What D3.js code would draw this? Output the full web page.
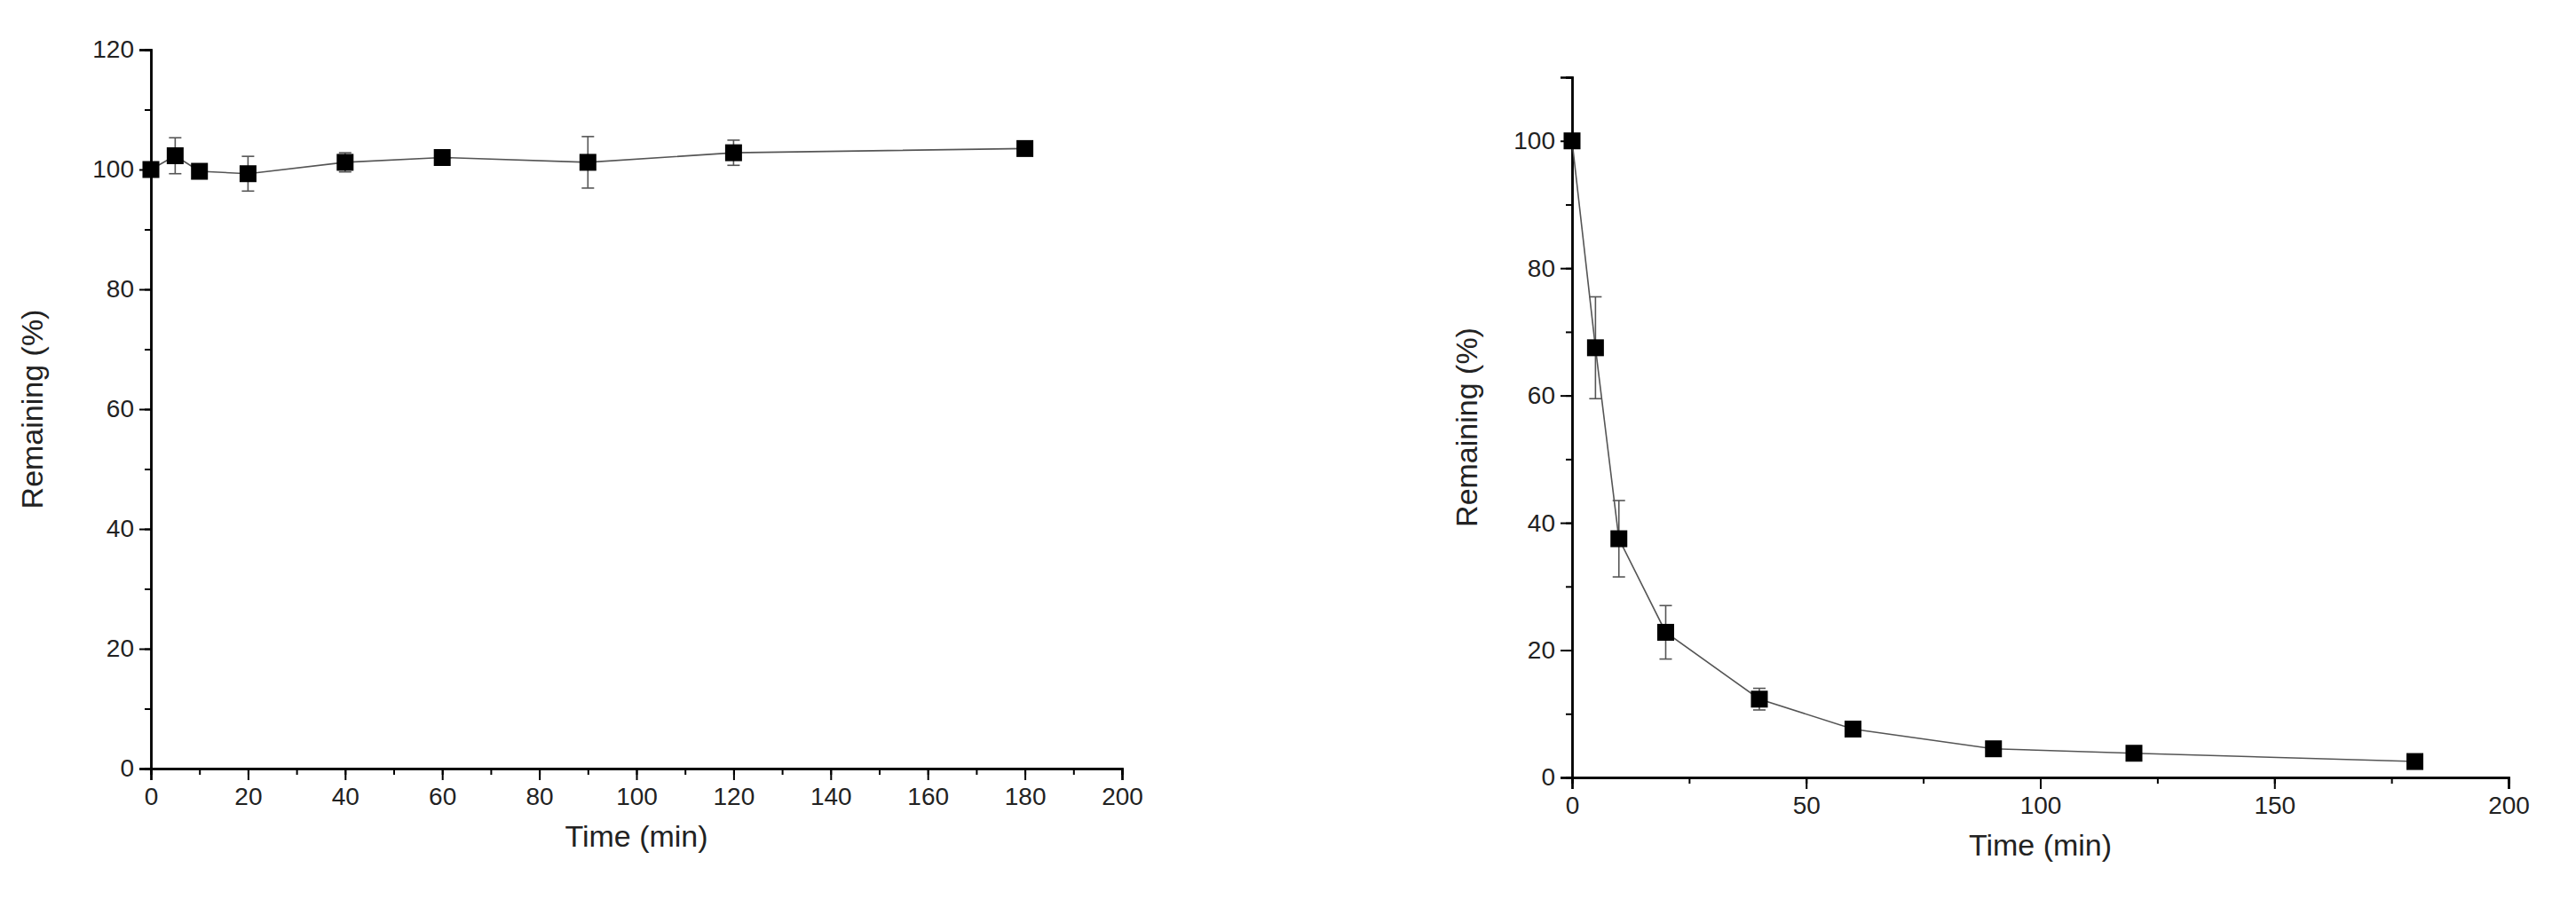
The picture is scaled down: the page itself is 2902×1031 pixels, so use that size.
<!DOCTYPE html>
<html><head><meta charset="utf-8">
<script src="https://cdn.jsdelivr.net/npm/d3@7"></script>
<style>body{margin:0;background:#fff}</style></head>
<body><svg id="c" width="2902" height="1031"></svg>
<script>
const times = [0,5,10,20,40,60,90,120,180];
const leftValues = [100,102.3,99.7,99.3,101.2,102.0,101.2,102.8,103.5];
const leftErrors = [0,3.0,1.0,2.9,1.6,1.2,4.3,2.1,0.6];
const rightValues = [100,67.5,37.5,22.8,12.3,7.6,4.5,3.8,2.5];
const rightErrors = [0,8.0,6.0,4.2,1.7,0.6,0.6,0.6,0.4];
const leftXTicks = [0,20,40,60,80,100,120,140,160,180,200];
const leftYTicks = [0,20,40,60,80,100,120];
const rightXTicks = [0,50,100,150,200];
const rightYTicks = [0,20,40,60,80,100];

const svg = d3.select("#c");
const font = "Liberation Sans, Arial, sans-serif";

function panel(o){
  const x = d3.scaleLinear().domain([0,200]).range([o.x0,o.x1]);
  const y = d3.scaleLinear().domain(o.yd).range([o.y0,o.y1]);
  const g = svg.append("g");
  // minor ticks
  const xa = d3.axisBottom(x).tickValues(d3.range(0,201,o.xminor)).tickSize(7).tickFormat("");
  g.append("g").attr("transform",`translate(0,${o.y0})`).call(xa);
  const xA = d3.axisBottom(x).tickValues(o.xt).tickSize(13).tickPadding(8).tickFormat(d3.format("d"));
  const gx = g.append("g").attr("transform",`translate(0,${o.y0})`).call(xA);
  const ya = d3.axisLeft(y).tickValues(d3.range(0,o.yd[1]+0.1,10)).tickSize(7).tickFormat("");
  g.append("g").attr("transform",`translate(${o.x0},0)`).call(ya);
  const yA = d3.axisLeft(y).tickValues(o.yt).tickSize(13).tickPadding(6).tickFormat(d3.format("d"));
  const gy = g.append("g").attr("transform",`translate(${o.x0},0)`).call(yA);
  g.selectAll(".domain").attr("stroke","#000").attr("stroke-width",2.5);
  g.selectAll(".tick line").attr("stroke","#000").attr("stroke-width",2);
  g.selectAll("text").attr("font-family",font).attr("font-size",28).attr("fill","#222");
  g.append("text").attr("x",(o.x0+o.x1)/2).attr("y",o.y0+88).attr("text-anchor","middle")
   .attr("font-family",font).attr("font-size",34).attr("fill","#222").text("Time (min)");
  g.append("text").attr("transform",`translate(${o.tx},${(o.y0+o.y1)/2}) rotate(-90)`).attr("text-anchor","middle")
   .attr("font-family",font).attr("font-size",34).attr("fill","#222").text("Remaining (%)");
  const data = times.map((t,i)=>({t,v:o.vals[i],e:o.errs[i]}));
  g.append("path").datum(data).attr("fill","none").attr("stroke","#555").attr("stroke-width",1.6)
   .attr("d",d3.line().x(d=>x(d.t)).y(d=>y(d.v)));
  const eb = g.selectAll(".eb").data(data.filter(d=>d.e>0)).enter().append("g").attr("stroke","#555").attr("stroke-width",1.6);
  eb.append("line").attr("x1",d=>x(d.t)).attr("x2",d=>x(d.t)).attr("y1",d=>y(d.v-d.e)).attr("y2",d=>y(d.v+d.e));
  eb.append("line").attr("x1",d=>x(d.t)-7).attr("x2",d=>x(d.t)+7).attr("y1",d=>y(d.v+d.e)).attr("y2",d=>y(d.v+d.e));
  eb.append("line").attr("x1",d=>x(d.t)-7).attr("x2",d=>x(d.t)+7).attr("y1",d=>y(d.v-d.e)).attr("y2",d=>y(d.v-d.e));
  g.selectAll(".m").data(data).enter().append("rect")
   .attr("x",d=>x(d.t)-9.5).attr("y",d=>y(d.v)-9.5).attr("width",19).attr("height",19).attr("fill","#000");
}
panel({x0:170,x1:1264,y0:866,y1:56,yd:[0,120],xt:leftXTicks,yt:leftYTicks,xminor:10,vals:leftValues,errs:leftErrors,tx:48});
panel({x0:1771,x1:2826,y0:876,y1:87,yd:[0,110],xt:rightXTicks,yt:rightYTicks,xminor:25,vals:rightValues,errs:rightErrors,tx:1664});
</script></body></html>
